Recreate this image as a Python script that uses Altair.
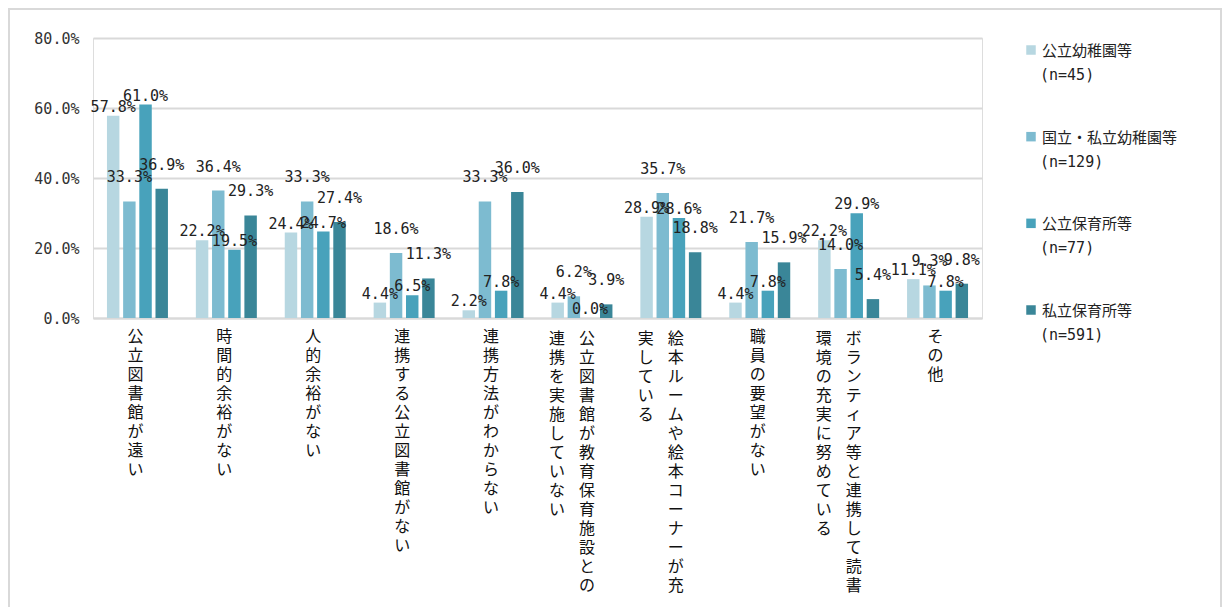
import altair as alt
import pandas as pd

categories = [
    "公立図書館が遠い",
    "時間的余裕がない",
    "人的余裕がない",
    "連携する公立図書館がない",
    "連携方法がわからない",
    "公立図書館が教育保育施設との連携を実施していない",
    "絵本ルームや絵本コーナーが充実している",
    "職員の要望がない",
    "ボランティア等と連携して読書環境の充実に努めている",
    "その他",
]
label_col1 = [
    "公立図書館が遠い", "時間的余裕がない", "人的余裕がない", "連携する公立図書館がない",
    "連携方法がわからない", "公立図書館が教育保育施設との", "絵本ルームや絵本コーナーが充",
    "職員の要望がない", "ボランティア等と連携して読書", "その他",
]
label_col2 = ["", "", "", "", "", "連携を実施していない", "実している", "", "環境の充実に努めている", ""]

series = ["公立幼稚園等", "国立・私立幼稚園等", "公立保育所等", "私立保育所等"]
series_n = ["(n=45)", "(n=129)", "(n=77)", "(n=591)"]
colors = ["#b7d7e1", "#7dbbd0", "#48a2bb", "#3a8698"]

v_kouritsu_yochien = [57.8, 22.2, 24.4, 4.4, 2.2, 4.4, 28.9, 4.4, 22.2, 11.1]
v_shiritsu_yochien = [33.3, 36.4, 33.3, 18.6, 33.3, 6.2, 35.7, 21.7, 14.0, 9.3]
v_kouritsu_hoiku = [61.0, 19.5, 24.7, 6.5, 7.8, 0.0, 28.6, 7.8, 29.9, 7.8]
v_shiritsu_hoiku = [36.9, 29.3, 27.4, 11.3, 36.0, 3.9, 18.8, 15.9, 5.4, 9.8]
all_values = [v_kouritsu_yochien, v_shiritsu_yochien, v_kouritsu_hoiku, v_shiritsu_hoiku]

rows = []
for s, vals in zip(series, all_values):
    for c, v in zip(categories, vals):
        rows.append({"cat": c, "series": s, "val": v})
df = pd.DataFrame(rows)

lab_df = pd.DataFrame({"cat": categories, "col1": label_col1, "col2": label_col2})
leg_df = pd.DataFrame({"series": series, "n": series_n, "idx": list(range(len(series)))})

FONT = "Noto Sans CJK JP"
MONO = "DejaVu Sans Mono"
W, H = 889, 280

color_scale = alt.Scale(domain=series, range=colors)
xenc = alt.X("cat:N", sort=categories,
             scale=alt.Scale(paddingInner=0.314, paddingOuter=0.157),
             axis=alt.Axis(title=None, labels=False, ticks=False, domainColor="#d9d9d9", domainWidth=2))
yenc = alt.Y("val:Q", scale=alt.Scale(domain=[0, 80]),
             axis=alt.Axis(title=None, values=[0, 20, 40, 60, 80], labelExpr="format(datum.value, '.1f') + '%'",
                           domain=False, ticks=False, gridColor="#d9d9d9", gridWidth=2,
                           labelFont=MONO, labelFontSize=15, labelColor="#333333", labelPadding=14))
xoff = alt.XOffset("series:N", sort=series, scale=alt.Scale(paddingInner=0.23))

frame = alt.Chart(pd.DataFrame({"a": [0]})).mark_rect(
    fillOpacity=0, stroke="#d9d9d9", strokeWidth=2
).encode(x=alt.value(-84), x2=alt.value(1128), y=alt.value(-29), y2=alt.value(700))

bars = alt.Chart(df).mark_bar().encode(
    x=xenc, y=yenc, xOffset=xoff,
    color=alt.Color("series:N", sort=series, scale=color_scale, legend=None),
)

vbase = alt.Chart(df).transform_calculate(txt="format(datum.val, '.1f') + '%'")
venc = dict(
    x=alt.X("cat:N", sort=categories),
    y=alt.Y("val:Q", scale=alt.Scale(domain=[0, 80]), axis=None),
    xOffset=alt.XOffset("series:N", sort=series), text="txt:N",
)
vlabels_low = vbase.transform_filter(alt.FieldOneOfPredicate(field="series", oneOf=series[0::2])).mark_text(
    font=MONO, fontSize=15, color="#222222", baseline="bottom", dy=-1).encode(**venc)
vlabels_high = vbase.transform_filter(alt.FieldOneOfPredicate(field="series", oneOf=series[1::2])).mark_text(
    font=MONO, fontSize=15, color="#222222", baseline="bottom", dy=-16).encode(**venc)

lab_base = alt.Chart(lab_df).transform_calculate(
    t1="join(split(datum.col1, ''), '\\n')",
    t2="join(split(datum.col2, ''), '\\n')",
)
txt_kw = dict(font=FONT, fontSize=16, color="#111111", baseline="top", lineBreak="\n", lineHeight=19)
single = lab_base.transform_filter("datum.col2 == ''").mark_text(dx=-2, **txt_kw).encode(
    x=alt.X("cat:N", sort=categories), y=alt.value(291), text="t1:N")
right_col = lab_base.transform_filter("datum.col2 != ''").mark_text(dx=5, **txt_kw).encode(
    x=alt.X("cat:N", sort=categories), y=alt.value(293), text="t1:N")
left_col = lab_base.transform_filter("datum.col2 != ''").mark_text(dx=-25, **txt_kw).encode(
    x=alt.X("cat:N", sort=categories), y=alt.value(293), text="t2:N")

leg_y = alt.Y("idx:Q", scale=alt.Scale(domain=[0, 3], range=[12, 272]), axis=None)
leg_sym = alt.Chart(leg_df).mark_square(size=90, opacity=1).encode(
    x=alt.value(938), y=leg_y,
    color=alt.Color("series:N", sort=series, scale=color_scale, legend=None))
leg_name = alt.Chart(leg_df).mark_text(font=FONT, fontSize=15, color="#222222", align="left",
                                       baseline="middle", dy=1).encode(
    x=alt.value(949), y=leg_y, text="series:N")
leg_n = alt.Chart(leg_df).mark_text(font=MONO, fontSize=15, color="#222222", align="left",
                                    baseline="middle", dy=25).encode(
    x=alt.value(947), y=leg_y, text="n:N")

chart = alt.layer(frame, bars, vlabels_low, vlabels_high, single, right_col, left_col,
                  leg_sym, leg_name, leg_n).resolve_scale(
    y="independent"
).properties(
    width=W, height=H, autosize="none",
    padding={"left": 85, "top": 30, "right": 242, "bottom": 289},
).configure_view(stroke=None).configure(font=FONT)

chart.save("out.html", embed_options={"renderer": "svg", "actions": False})
